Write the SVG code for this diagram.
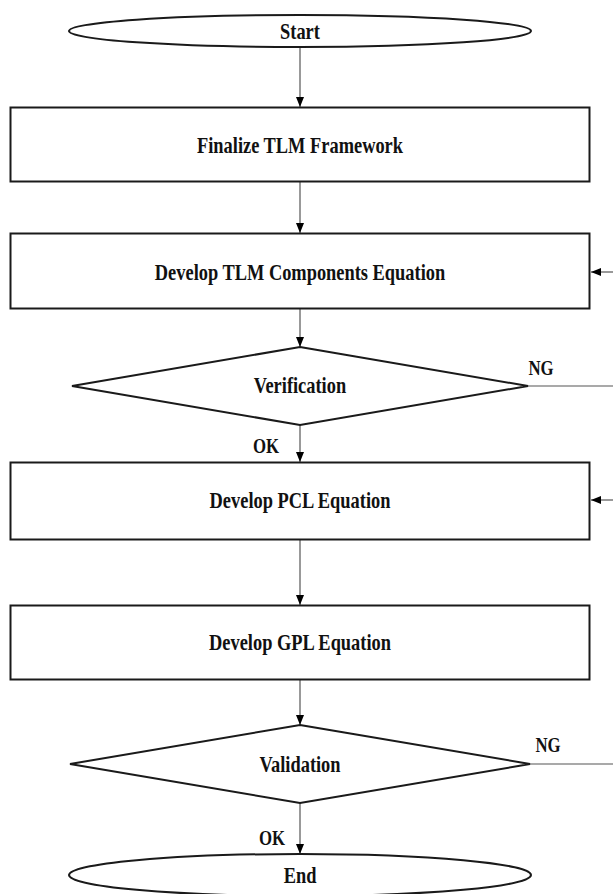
<svg xmlns="http://www.w3.org/2000/svg" width="613" height="894" viewBox="0 0 613 894">
<style>
.shape{fill:#fff;stroke:#1a1a1a;stroke-width:2}
.conn{stroke:#555;stroke-width:1.2;fill:none}
.t{font-family:"Liberation Serif","Times New Roman",serif;font-weight:bold;font-size:23px;fill:#111;text-anchor:middle}
.l{font-family:"Liberation Serif","Times New Roman",serif;font-weight:bold;font-size:21px;fill:#111;text-anchor:middle}
</style>
<defs>
<marker id="ah" viewBox="0 0 10 10" refX="10" refY="5" markerWidth="10" markerHeight="10" markerUnits="userSpaceOnUse" orient="auto">
<path d="M0,1 L10,5 L0,9 Z" fill="#000"/>
</marker>
</defs>
<rect width="613" height="894" fill="#fff"/>
<g id="connectors">
<line class="conn" x1="300" y1="47" x2="300" y2="107" marker-end="url(#ah)"/>
<line class="conn" x1="300" y1="182" x2="300" y2="233" marker-end="url(#ah)"/>
<line class="conn" x1="300" y1="309" x2="300" y2="347" marker-end="url(#ah)"/>
<line class="conn" x1="300" y1="425" x2="300" y2="462" marker-end="url(#ah)"/>
<line class="conn" x1="300" y1="540" x2="300" y2="605" marker-end="url(#ah)"/>
<line class="conn" x1="300" y1="680" x2="300" y2="725" marker-end="url(#ah)"/>
<line class="conn" x1="300" y1="803" x2="300" y2="854" marker-end="url(#ah)"/>
<line class="conn" x1="528" y1="386" x2="613" y2="386"/>
<line class="conn" x1="530" y1="764" x2="613" y2="764"/>
<line class="conn" x1="613" y1="272" x2="591" y2="272" marker-end="url(#ah)"/>
<line class="conn" x1="613" y1="500" x2="591" y2="500" marker-end="url(#ah)"/>
<text class="l" transform="translate(541,375) scale(0.8,1)">NG</text>
<text class="l" transform="translate(548,752) scale(0.8,1)">NG</text>
<text class="l" transform="translate(266,453) scale(0.8,1)">OK</text>
<text class="l" transform="translate(272,845) scale(0.8,1)">OK</text>
</g>
<g id="start">
<ellipse class="shape" cx="300" cy="31" rx="231" ry="16"/>
<text class="t" transform="translate(300,39) scale(0.8,1)">Start</text>
</g>
<g id="finalize">
<rect class="shape" x="10.5" y="107.5" width="579" height="74"/>
<text class="t" transform="translate(300,153) scale(0.8,1)">Finalize TLM Framework</text>
</g>
<g id="components">
<rect class="shape" x="10.5" y="233.5" width="579" height="75"/>
<text class="t" transform="translate(300,280) scale(0.8,1)">Develop TLM Components Equation</text>
</g>
<g id="verification">
<polygon class="shape" points="300,347 528,386 300,425 72,386"/>
<text class="t" transform="translate(300,393) scale(0.8,1)">Verification</text>
</g>
<g id="pcl">
<rect class="shape" x="10.5" y="462.5" width="579" height="77"/>
<text class="t" transform="translate(300,508) scale(0.8,1)">Develop PCL Equation</text>
</g>
<g id="gpl">
<rect class="shape" x="10.5" y="605.5" width="579" height="74"/>
<text class="t" transform="translate(300,650) scale(0.8,1)">Develop GPL Equation</text>
</g>
<g id="validation">
<polygon class="shape" points="300,725 530,764 300,803 70,764"/>
<text class="t" transform="translate(300,772) scale(0.8,1)">Validation</text>
</g>
<g id="end">
<ellipse class="shape" cx="300" cy="875" rx="231" ry="21"/>
<text class="t" transform="translate(300,883) scale(0.8,1)">End</text>
</g>
</svg>
